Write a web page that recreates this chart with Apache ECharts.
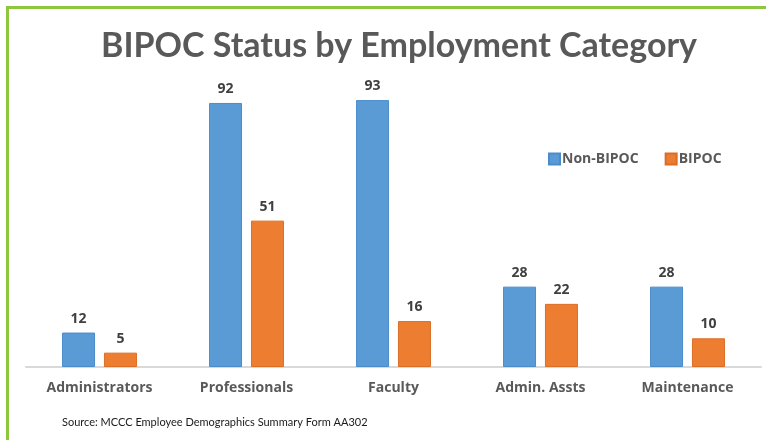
<!DOCTYPE html>
<html>
<head>
<meta charset="utf-8">
<script src="https://cdn.jsdelivr.net/npm/echarts@6/dist/echarts.min.js"></script>
<style>
  html, body { margin: 0; padding: 0; background: #fff; }
  #chart { width: 766px; height: 440px; }
</style>
</head>
<body>
<div id="chart"></div>
<script>
// Employee counts per category, split by BIPOC status
const categories = ['Administrators', 'Professionals', 'Faculty', 'Admin. Assts', 'Maintenance'];
const nonBipoc = [12, 92, 93, 28, 28];
const bipoc = [5, 51, 16, 22, 10];
const seriesNames = ['Non-BIPOC', 'BIPOC'];

const TITLE_FONT = 'Lato, "Open Sans", sans-serif';
const FONT = '"Open Sans", Lato, sans-serif';
const GREY = '#595959';

const chart = echarts.init(document.getElementById('chart'), null, { renderer: 'canvas' });

const labelStyle = {
  show: true,
  position: 'top',
  distance: 7,
  color: '#404040',
  fontFamily: FONT,
  fontWeight: 'bold',
  fontSize: 14
};

chart.setOption({
  backgroundColor: '#ffffff',
  animation: false,
  title: {
    text: 'BIPOC Status by Employment Category',
    left: 96,
    top: 24,
    textStyle: {
      color: GREY,
      fontFamily: TITLE_FONT,
      fontWeight: 'bold',
      fontSize: 34
    }
  },
  legend: {
    data: seriesNames,
    left: 543,
    top: 147,
    itemWidth: 11,
    itemHeight: 11,
    itemGap: 26,
    icon: 'rect',
    textStyle: {
      color: GREY,
      fontFamily: FONT,
      fontWeight: 'bold',
      fontSize: 14,
      padding: [0, 0, 0, -3]
    }
  },
  grid: {
    left: 26,
    right: 5,
    top: 80,
    bottom: 73,
    containLabel: false
  },
  xAxis: {
    type: 'category',
    data: categories,
    axisLine: { show: true, lineStyle: { color: '#d9d9d9', width: 2 } },
    axisTick: { show: false },
    axisLabel: {
      color: GREY,
      fontFamily: FONT,
      fontWeight: 'bold',
      fontSize: 14,
      margin: 14
    }
  },
  yAxis: {
    type: 'value',
    min: 0,
    max: 100,
    show: false,
    splitLine: { show: false }
  },
  series: [
    {
      name: seriesNames[0],
      type: 'bar',
      data: nonBipoc,
      barWidth: 33,
      barGap: '27%',
      itemStyle: { color: '#5B9BD5', borderColor: '#4A8CCB', borderWidth: 1 },
      label: labelStyle
    },
    {
      name: seriesNames[1],
      type: 'bar',
      data: bipoc,
      barWidth: 33,
      itemStyle: { color: '#ED7D31', borderColor: '#DB6E25', borderWidth: 1 },
      label: labelStyle
    }
  ],
  graphic: [
    // slide frame: green rules along the top and left edges
    { type: 'rect', shape: { x: 6, y: 6, width: 760, height: 3 }, style: { fill: '#8DC63F' }, silent: true },
    { type: 'rect', shape: { x: 6, y: 6, width: 3, height: 434 }, style: { fill: '#8DC63F' }, silent: true },
    {
      type: 'text',
      left: 62,
      top: 417,
      style: {
        text: 'Source: MCCC Employee Demographics Summary Form AA302',
        fill: '#1a1a1a',
        font: '11px ' + TITLE_FONT
      }
    }
  ]
});
</script>
</body>
</html>
